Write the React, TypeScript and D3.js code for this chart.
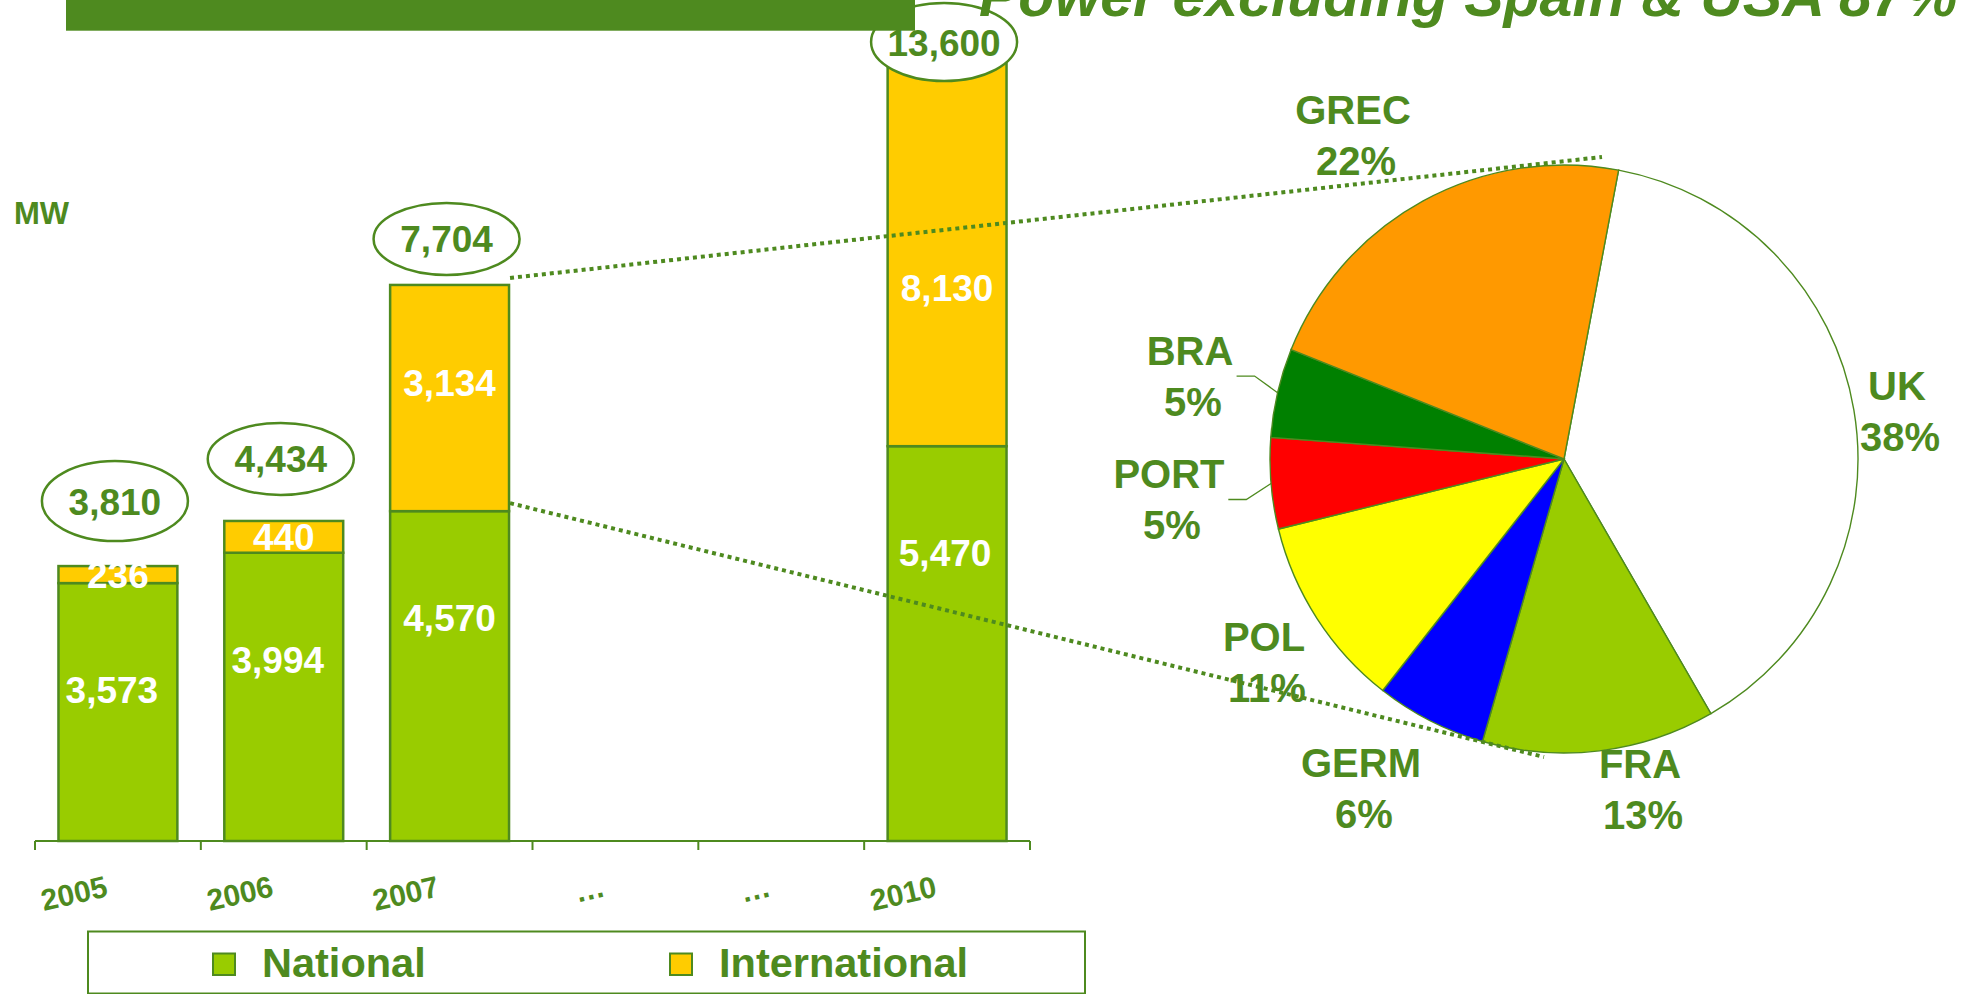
import React from 'react';
import * as d3 from 'd3';

// ---------- data ----------
const axisKeys = ['2005', '2006', '2007', 'gap1', 'gap2', '2010'];
const axisLabels = ['2005', '2006', '2007', '…', '…', '2010'];
const barYears = ['2005', '2006', '2007', '2010'];
const national = [3573, 3994, 4570, 5470];
const international = [236, 440, 3134, 8130];
const totals = [3810, 4434, 7704, 13600];

const countries = ['UK', 'FRA', 'GERM', 'POL', 'PORT', 'BRA', 'GREC'];
const shares = [38.7, 12.8, 6.1, 10.6, 5.0, 4.9, 21.9];
const shareLabels = ['38%', '13%', '6%', '11%', '5%', '5%', '22%'];

const legendItems = ['National', 'International'];
const titleText = 'Power excluding Spain & USA 87%';
const unitText = 'MW';

// ---------- style / layout ----------
const GREEN = '#4E8A1F';
const NAT = '#99CC00';
const INTL = '#FFCC00';
const sliceColors = ['#FFFFFF', '#99CC00', '#0000FF', '#FFFF00', '#FF0000', '#008000', '#FF9900'];
const FONT = '"Liberation Sans", Arial, Helvetica, sans-serif';

const W = 1962;
const H = 994;
const baseY = 841;
const topY = 42;
const axisX0 = 35;
const axisX1 = 1030;
const barFrac = 0.717;
const natLabelDy = 120;
const natLabelDx = [-6, -6, 0, -2];
const intLabelShift = [0, 0, -15, 44];
const totalDy = [-65, -62, -46, 0];
const totalRy = [40, 36, 36, 39];

const pieCx = 1564;
const pieCy = 459;
const pieR = 294;
const pieStart = (10.7 * Math.PI) / 180;
// label anchor (center x, first-line baseline) relative to pie centre
const pieLabelPos: [number, number][] = [
  [333, -59],
  [76, 319],
  [-203, 318],
  [-300, 192],
  [-395, 29],
  [-374, -94],
  [-211, -335],
];
// leader lines (by index): elbow offset, then horizontal run
const leaders: { idx: number; dx: number; dy: number; run: number }[] = [
  { idx: 5, dx: -23, dy: -16.6, run: -18 },
  { idx: 4, dx: -24.7, dy: 16, run: -18 },
];
// dotted connector end points relative to pie centre
const connEnds: [number, number][] = [
  [38, -302],
  [-20, 298],
];

export default function App() {
  const x = d3.scaleBand<string>().domain(axisKeys).range([axisX0, axisX1]).padding(0);
  const y = d3.scaleLinear().domain([0, 11070]).range([baseY, topY]).clamp(true);
  const bw = x.bandwidth();
  const barW = bw * barFrac;

  const bars = barYears.map((yr, i) => {
    const cx = (x(yr) as number) + bw / 2;
    const nat = national[i];
    const top = nat + international[i];
    return { yr, i, cx, x0: cx - barW / 2, yNat: y(nat), yTop: y(top), y0: y(0) };
  });

  const pie = d3
    .pie<number>()
    .sort(null)
    .value((d) => d)
    .startAngle(pieStart)
    .endAngle(pieStart + Math.PI * 2);
  const arcs = pie(shares);
  const arcGen = d3.arc<d3.PieArcDatum<number>>().innerRadius(0).outerRadius(pieR);

  const edgePoint = (a: d3.PieArcDatum<number>, r: number): [number, number] => {
    const m = (a.startAngle + a.endAngle) / 2;
    return [pieCx + r * Math.sin(m), pieCy - r * Math.cos(m)];
  };

  const b2007 = bars[2];
  const barRight = b2007.x0 + barW;

  const ticks = [...axisKeys.map((k) => x(k) as number), axisX1];

  return (
    <svg
      width={W}
      height={H}
      viewBox={`0 0 ${W} ${H}`}
      style={{ position: 'absolute', left: 0, top: 0, background: '#fff', fontFamily: FONT }}
    >
      <rect x={0} y={0} width={W} height={H} fill="#fff" />

      {/* bars */}
      {bars.map((b) => (
        <g key={b.yr}>
          <rect x={b.x0} y={b.yNat} width={barW} height={b.y0 - b.yNat} fill={NAT} stroke={GREEN} strokeWidth={2.5} />
          <rect x={b.x0} y={b.yTop} width={barW} height={b.yNat - b.yTop} fill={INTL} stroke={GREEN} strokeWidth={2.5} />
        </g>
      ))}

      {/* axis */}
      <line x1={axisX0} x2={axisX1} y1={baseY} y2={baseY} stroke={GREEN} strokeWidth={2} />
      {ticks.map((t, i) => (
        <line key={i} x1={t} x2={t} y1={baseY} y2={baseY + 9} stroke={GREEN} strokeWidth={2} />
      ))}
      {axisKeys.map((k, i) => {
        const cx = (x(k) as number) + bw / 2 - 9;
        return (
          <text
            key={k}
            x={cx}
            y={896}
            transform={`rotate(-13 ${cx} 896)`}
            textAnchor="end"
            fontSize={30}
            fontWeight="bold"
            fill={GREEN}
          >
            {axisLabels[i]}
          </text>
        );
      })}

      {/* bar value labels */}
      {bars.map((b) => (
        <g key={'l' + b.yr} fill="#fff" fontSize={37} fontWeight="bold" textAnchor="middle">
          <text x={b.cx + natLabelDx[b.i]} y={b.yNat + natLabelDy}>{d3.format(',')(national[b.i])}</text>
          <text x={b.cx} y={(b.yNat + b.yTop) / 2 + 13 + intLabelShift[b.i]}>
            {d3.format(',')(international[b.i])}
          </text>
        </g>
      ))}

      {/* total ellipses */}
      {bars.map((b) => (
        <g key={'t' + b.yr}>
          <ellipse cx={b.cx - 3} cy={b.yTop + totalDy[b.i]} rx={73} ry={totalRy[b.i]} fill="#fff" stroke={GREEN} strokeWidth={2.5} />
          <text
            x={b.cx - 3}
            y={b.yTop + totalDy[b.i] + 13.5}
            textAnchor="middle"
            fontSize={37}
            fontWeight="bold"
            fill={GREEN}
          >
            {d3.format(',')(totals[b.i])}
          </text>
        </g>
      ))}

      {/* header */}
      <rect x={66} y={-2} width={849} height={32.7} fill={GREEN} />
      <text x={979} y={16} fontSize={59} fontWeight="bold" fontStyle="italic" fill={GREEN}>
        {titleText}
      </text>

      <text x={14} y={224} fontSize={31} fontWeight="bold" fill={GREEN}>
        {unitText}
      </text>

      {/* pie */}
      <g transform={`translate(${pieCx},${pieCy})`}>
        {arcs.map((a, i) => (
          <path key={countries[i]} d={arcGen(a) as string} fill={sliceColors[i]} stroke={GREEN} strokeWidth={1.4} />
        ))}
      </g>
      {leaders.map((l) => {
        const p0 = edgePoint(arcs[l.idx], pieR);
        const p1: [number, number] = [p0[0] + l.dx, p0[1] + l.dy];
        const p2: [number, number] = [p1[0] + l.run, p1[1]];
        return (
          <polyline
            key={'ld' + l.idx}
            points={[p0, p1, p2].map((p) => p.join(',')).join(' ')}
            fill="none"
            stroke={GREEN}
            strokeWidth={1.3}
          />
        );
      })}
      {countries.map((c, i) => {
        const [dx, dy] = pieLabelPos[i];
        return (
          <g key={'pl' + c} fontSize={40} fontWeight="bold" fill={GREEN} textAnchor="middle">
            <text x={pieCx + dx} y={pieCy + dy}>{c}</text>
            <text x={pieCx + dx + 3} y={pieCy + dy + 51}>{shareLabels[i]}</text>
          </g>
        );
      })}

      {/* dotted connectors */}
      <line
        x1={barRight + 1}
        y1={b2007.yTop - 7}
        x2={pieCx + connEnds[0][0]}
        y2={pieCy + connEnds[0][1]}
        stroke={GREEN}
        strokeWidth={4}
        strokeDasharray="4 4"
      />
      <line
        x1={barRight + 1}
        y1={b2007.yNat - 8}
        x2={pieCx + connEnds[1][0]}
        y2={pieCy + connEnds[1][1]}
        stroke={GREEN}
        strokeWidth={4}
        strokeDasharray="4 4"
      />

      {/* legend */}
      <rect x={88} y={931.5} width={997} height={62} fill="#fff" stroke={GREEN} strokeWidth={2} />
      {legendItems.map((lab, i) => {
        const sx = i === 0 ? 213 : 670;
        return (
          <g key={lab}>
            <rect x={sx} y={953.5} width={22} height={21.5} fill={i === 0 ? NAT : INTL} stroke={GREEN} strokeWidth={2} />
            <text x={sx + 49} y={977} fontSize={41.5} fontWeight="bold" fill={GREEN}>
              {lab}
            </text>
          </g>
        );
      })}
    </svg>
  );
}
